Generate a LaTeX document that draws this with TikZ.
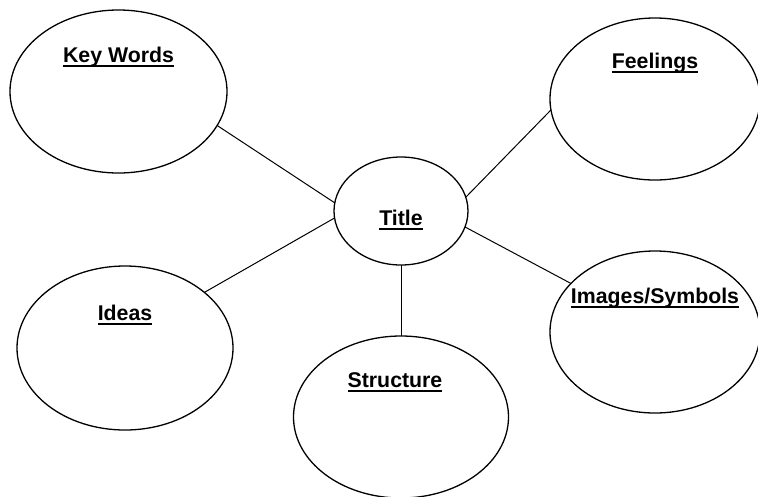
\documentclass[tikz,border=0pt]{standalone}
\usepackage{fontspec}
\setmainfont{Liberation Sans}
\usetikzlibrary{shapes.geometric}

\newcommand{\ulab}[1]{\setbox0\hbox{#1}\rlap{\rule[-5pt]{\wd0}{2pt}}\box0}

\begin{document}
\begin{tikzpicture}[x=1pt,y=-1pt,
  bubble/.style={draw,ellipse,line width=1.3pt,inner sep=0pt,outer sep=0pt},
  lab/.style={anchor=base,font=\bfseries\fontsize{21.3}{24}\selectfont}]
  \clip (0,0) rectangle (758,496);

  % the six bubbles
  \node[bubble,minimum width=217pt,minimum height=163pt] (kw) at (118.5,91.5) {};
  \node[bubble,minimum width=210pt,minimum height=162pt] (feel) at (655,99) {};
  \node[bubble,minimum width=134pt,minimum height=108pt] (title) at (401,211) {};
  \node[bubble,minimum width=216pt,minimum height=164pt] (ideas) at (125,348) {};
  \node[bubble,minimum width=215pt,minimum height=162pt] (struct) at (401,417) {};
  \node[bubble,minimum width=210pt,minimum height=162pt] (img) at (655,332) {};

  % headings
  \node[lab] (kwl) at ([yshift=-52pt]kw.north) {\ulab{Key Words}};
  \node[lab] (feell) at ([yshift=-50pt]feel.north) {\ulab{Feelings}};
  \node[lab] (titlel) at ([yshift=-14pt]title.center) {\ulab{Title}};
  \node[lab] (ideasl) at ([yshift=-54pt]ideas.north) {\ulab{Ideas}};
  \node[lab] (structl) at ([yshift=-51pt,xshift=-6pt]struct.north) {\ulab{Structure}};
  \node[lab] (imgl) at ([yshift=-52pt]img.north) {\ulab{Images/Symbols}};

  % spokes
  \draw[line width=1pt] (kw.-19) -- (title.173);
  \draw[line width=1pt] (ideas.35) -- (title.186);
  \draw[line width=1pt] (feel.186) -- (title.12);
  \draw[line width=1pt] (img.150) -- (title.-14);
  \draw[line width=1pt] (title) -- (struct);
\end{tikzpicture}
\end{document}
